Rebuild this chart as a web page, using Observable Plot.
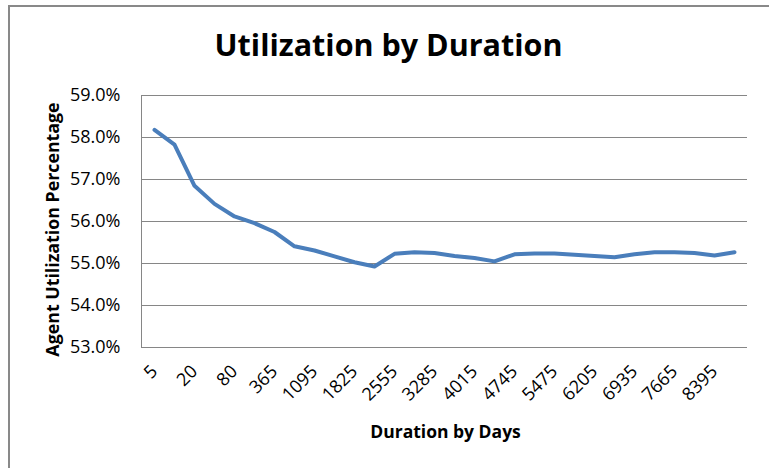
<!DOCTYPE html>
<html>
<head>
<meta charset="utf-8">
<script src="https://cdn.jsdelivr.net/npm/d3@7"></script>
<script src="https://cdn.jsdelivr.net/npm/@observablehq/plot@0.6"></script>
<style>
  html, body { margin: 0; padding: 0; background: #fff; }
  #wrap { position: relative; width: 769px; height: 468px; overflow: hidden; background: #fff; }
  #wrap svg { position: absolute; left: 0; top: 0; z-index: 1; }
  #border { position: absolute; left: 8px; top: 5px; width: 800px; height: 461px; z-index: 2;
            border-left: 2px solid #898989; border-top: 2px solid #898989; border-bottom: 1px solid #ececec; pointer-events: none; }
</style>
</head>
<body>
<div id="wrap"><div id="border"></div></div>
<script>
// Data
const categories = ["5","10","20","40","80","180","365","730","1095","1460","1825","2190","2555","2920","3285","3650","4015","4380","4745","5110","5475","5840","6205","6570","6935","7300","7665","8030","8395","8760"];
const utilization = [58.18,57.83,56.85,56.42,56.12,55.96,55.75,55.41,55.31,55.17,55.03,54.93,55.23,55.27,55.25,55.18,55.13,55.05,55.22,55.24,55.24,55.21,55.18,55.15,55.22,55.27,55.27,55.25,55.19,55.27];
const yTicks = [53, 54, 55, 56, 57, 58, 59];
const xTickLabels = ["5","20","80","365","1095","1825","2555","3285","4015","4745","5475","6205","6935","7665","8395"];
const title = "Utilization by Duration";
const xLabel = "Duration by Days";
const yLabel = "Agent Utilization Percentage";

const data = categories.map((c, i) => ({duration: c, value: utilization[i]}));
const FONT = "'Open Sans', 'Noto Sans', sans-serif";

const chart = Plot.plot({
  width: 769,
  height: 468,
  marginLeft: 141,
  marginRight: 22,
  marginTop: 95,
  marginBottom: 121,
  style: {fontFamily: FONT, background: "transparent", color: "#000", overflow: "visible"},
  x: {type: "point", domain: categories, padding: 0.5},
  y: {domain: [53, 59]},
  marks: [
    Plot.gridY(yTicks, {stroke: "#868686", strokeOpacity: 1, strokeWidth: 1}),
    Plot.frame({anchor: "left", stroke: "#868686"}),
    Plot.axisY(yTicks, {tickSize: 0, tickPadding: 21, fontSize: 18, tickFormat: d => d.toFixed(1) + "%", label: null}),
    Plot.axisX(xTickLabels, {tickSize: 0, tickPadding: 21, dx: 0, tickRotate: -45, fontSize: 18, label: null}),
    Plot.line(data, {x: "duration", y: "value", stroke: "#4A7EBB", strokeWidth: 4, strokeLinejoin: "round", strokeLinecap: "round"}),
    Plot.text([title], {frameAnchor: "top", dx: -56, dy: -40, lineAnchor: "bottom", fontSize: 30.5, fontWeight: "bold", fill: "#000"}),
    Plot.text([yLabel], {frameAnchor: "left", textAnchor: "middle", dx: -83, dy: 8, rotate: -90, lineAnchor: "bottom", fontSize: 17.8, fontWeight: "bold", fill: "#000"}),
    Plot.text([xLabel], {frameAnchor: "bottom", dx: 1, dy: 90, lineAnchor: "bottom", fontSize: 17.5, fontWeight: "bold", fill: "#000"})
  ]
});
document.getElementById("wrap").appendChild(chart);
</script>
</body>
</html>
